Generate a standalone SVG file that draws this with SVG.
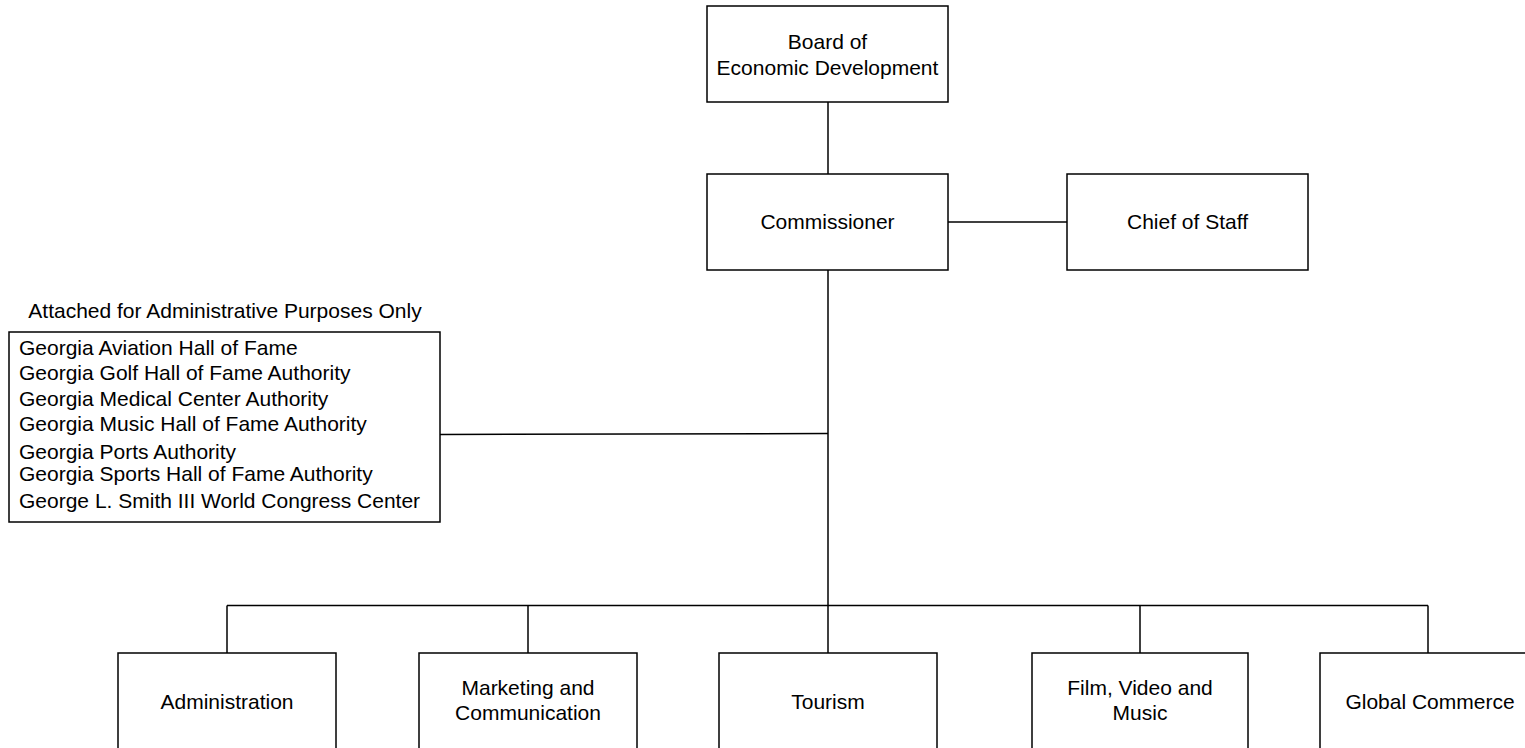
<svg xmlns="http://www.w3.org/2000/svg" width="1525" height="748" viewBox="0 0 1525 748">
<style>
.box{fill:#ffffff;stroke:#000000;stroke-width:1.5}
.ln{fill:none;stroke:#000000;stroke-width:1.5}
text{font-family:"Liberation Sans",Arial,sans-serif;font-size:21px;fill:#000000}
.c{text-anchor:middle}
</style>
<rect width="1525" height="748" fill="#ffffff"/>
<g id="connectors">
<path class="ln" d="M828 102V174"/>
<path class="ln" d="M948 222H1067"/>
<path class="ln" d="M828 270V605.5"/>
<path class="ln" d="M440 434.5L828 433.5"/>
<path class="ln" d="M227 605.5H1428"/>
<path class="ln" d="M227 605.5V653"/>
<path class="ln" d="M528 605.5V653"/>
<path class="ln" d="M828 605.5V653"/>
<path class="ln" d="M1140 605.5V653"/>
<path class="ln" d="M1428 605.5V653"/>
</g>
<g id="board">
<rect class="box" x="707" y="6" width="241" height="96"/>
<text class="c" x="827.5" y="49">Board of</text>
<text class="c" x="827.5" y="75">Economic Development</text>
</g>
<g id="commissioner">
<rect class="box" x="707" y="174" width="241" height="96"/>
<text class="c" x="827.5" y="229">Commissioner</text>
</g>
<g id="chief">
<rect class="box" x="1067" y="174" width="241" height="96"/>
<text class="c" x="1187.5" y="229">Chief of Staff</text>
</g>
<g id="attached">
<text class="c" x="225" y="318">Attached for Administrative Purposes Only</text>
<rect class="box" x="9" y="332" width="431" height="190"/>
<text x="19" y="355">Georgia Aviation Hall of Fame</text>
<text x="19" y="380">Georgia Golf Hall of Fame Authority</text>
<text x="19" y="406">Georgia Medical Center Authority</text>
<text x="19" y="431">Georgia Music Hall of Fame Authority</text>
<text x="19" y="459">Georgia Ports Authority</text>
<text x="19" y="481">Georgia Sports Hall of Fame Authority</text>
<text x="19" y="508">George L. Smith III World Congress Center</text>
</g>
<g id="administration">
<rect class="box" x="118" y="653" width="218" height="100"/>
<text class="c" x="227" y="709">Administration</text>
</g>
<g id="marketing">
<rect class="box" x="419" y="653" width="218" height="100"/>
<text class="c" x="528" y="695">Marketing and</text>
<text class="c" x="528" y="720">Communication</text>
</g>
<g id="tourism">
<rect class="box" x="719" y="653" width="218" height="100"/>
<text class="c" x="828" y="709">Tourism</text>
</g>
<g id="film">
<rect class="box" x="1032" y="653" width="216" height="100"/>
<text class="c" x="1140" y="695">Film, Video and</text>
<text class="c" x="1140" y="720">Music</text>
</g>
<g id="global">
<rect class="box" x="1320" y="653" width="218" height="100"/>
<text class="c" x="1430" y="709">Global Commerce</text>
</g>
</svg>
